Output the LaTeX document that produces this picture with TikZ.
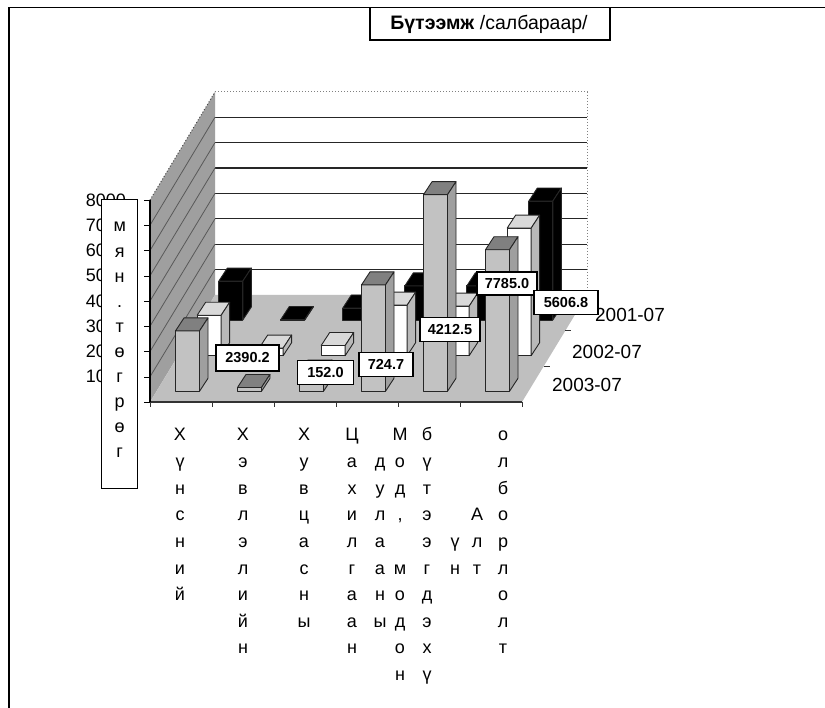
\documentclass[tikz,border=0pt]{standalone}
\usepackage{fontspec}
\setmainfont{Liberation Sans}

\newcommand{\stack}[4]{%
  \foreach \ch [count=\i from #3] in {#4}
    \node[cat,anchor=base] (#1-\i) at (#2,{441+26.6*(\i-1)}) {\ch};}

\begin{document}
\begin{tikzpicture}[x=1pt,y=-1pt,
  cat/.style={inner sep=0pt,font=\fontsize{18}{18}\selectfont},
  lbl/.style={draw,fill=white,line width=1.4pt,inner sep=0pt,minimum height=24pt,
    minimum width=56pt,font=\bfseries\fontsize{14.5}{14.5}\selectfont},
  ser/.style={inner sep=0pt,font=\fontsize{19}{19}\selectfont},
  barline/.style={draw=black!85,line width=0.9pt,line join=round}]
\useasboundingbox (0,0) rectangle (825,708);
\draw[line width=1.5pt] (9,708) -- (9,7.5) -- (825,7.5);

\fill[white] (215,92) rectangle (587,295);
\foreach \k in {1,...,7}
  \draw[black!85,line width=1.2pt] (215,{295-25.4*\k}) -- (587,{295-25.4*\k});
\draw[gray,dotted,line width=1pt] (215,92) -- (587,92) -- (587,295);
\fill[gray!75] (150,402) -- (150,200) -- (215,92) -- (215,295) -- cycle;
\foreach \k in {1,...,7}
  \draw[black!65,line width=0.8pt] (150,{402-25.25*\k}) -- (215,{295-25.4*\k});
\draw[gray!60!black,dotted,line width=1pt] (150,200) -- (215,92);
\fill[gray!50] (150,402) -- (522,402) -- (587,295) -- (215,295) -- cycle;

\foreach \row/\vals/\fc/\tc/\sc in {
  2/{1540,20,475,1350,1350,4710}/black/black/black,
  1/{1600,300,400,2000,1960,5050}/white/gray!30/gray!55,
  0/{2390.2,152.0,724.7,4212.5,7785.0,5606.8}/gray!48/gray!100/gray!75}
{
  \foreach \v [count=\c] in \vals {
    \pgfmathsetmacro\cx{150+62*(\c-0.5)+65*(0.1+\row/3)}
    \pgfmathsetmacro\yb{402-107*(0.1+\row/3)}
    \pgfmathsetmacro\yt{\yb-0.02525*\v}
    \filldraw[barline,fill=\fc] (\cx-12,\yb) rectangle (\cx+12,\yt);
    \filldraw[barline,fill=\tc] (\cx-12,\yt) -- ++(8.5,-13) -- ++(24,0)
      -- (\cx+12,\yt) -- cycle;
    \filldraw[barline,fill=\sc] (\cx+12,\yb) -- ++(8.5,-13)
      -- (\cx+20.5,\yt-13) -- (\cx+12,\yt) -- cycle;
  }
}

\draw[black!80,line width=1.5pt] (150,402) -- (522,402);
\foreach \j in {0,...,6} \draw[black!80] ({150+62*\j},402) -- ++(0,5);
\foreach \j in {1,2} \draw[black!80] ({522+65*\j/3},{402-107*\j/3}) -- ++(6,0);
\draw[line width=1.5pt] (150,200) -- (150,402);
\foreach \k in {0,...,8} \draw (144,{402-25.25*\k}) -- (150,{402-25.25*\k});

\node[ser] (s1) at (630,315) {2001-07};
\node[ser] (s2) at (607,352) {2002-07};
\node[ser] (s3) at (587,385) {2003-07};

\node[lbl,minimum width=63pt,minimum height=26pt] (v1) at (247.5,358) {2390.2};
\node[lbl] (v2) at (325.5,372.5) {152.0};
\node[lbl,minimum width=54pt] (v3) at (386,364.5) {724.7};
\node[lbl,minimum width=60pt] (v4) at (450,329.5) {4212.5};
\node[lbl,minimum width=60pt,minimum height=23pt] (v5) at (507,283.5) {7785.0};
\node[lbl,minimum width=64pt] (v6) at (566,302.5) {5606.8};

\foreach \k in {1,...,8}
  \node[inner sep=0pt,anchor=east,font=\fontsize{18}{18}\selectfont] (y\k)
    at (126,{402-25.25*\k}) {\k000};
\node[draw,fill=white,line width=1pt,minimum width=36pt,minimum height=289pt] (unit) at (119.7,344) {};
\foreach \ch [count=\i] in {м,я,н,.,т,ө,г,р,ө,г}
  \node[cat,anchor=base] (u-\i) at (119.7,{232+25.1*(\i-1)}) {\ch};

\stack{a}{180}{1}{Х,ү,н,с,н,и,й}
\stack{b}{243}{1}{Х,э,в,л,э,л,и,й,н}
\stack{c}{304}{1}{Х,у,в,ц,а,с,н,ы}
\stack{d}{352}{1}{Ц,а,х,и,л,г,а,а,н}
\stack{e}{380}{2}{д,у,л,а,а,н,ы}
\stack{f}{400}{1}{М,о,д,{,}}
\stack{g}{400}{6}{м,о,д,о,н}
\stack{h}{427}{1}{б,ү,т,э,э,г,д,э,х,ү}
\stack{k}{455}{5}{ү,н}
\stack{l}{477}{4}{А,л,т}
\stack{m}{503}{1}{о,л,б,о,р,л,о,л,т}

\draw[line width=1.5pt] (370,7.5) rectangle (610,40);
\node[inner sep=0pt,font=\fontsize{19.5}{19.5}\selectfont] (title) at (489,24)
  {\textbf{Бүтээмж} /салбараар/};
\end{tikzpicture}
\end{document}
